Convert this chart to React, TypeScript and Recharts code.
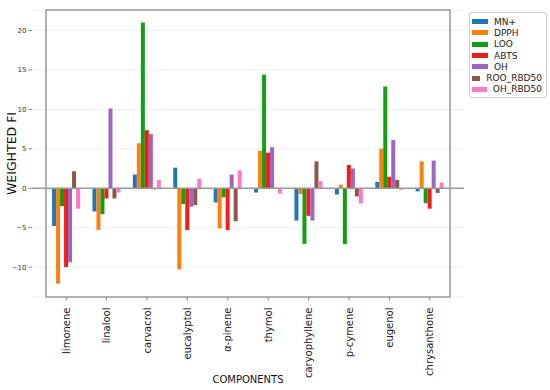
import React from "react";
import { BarChart, Bar, XAxis, YAxis, CartesianGrid, Legend, ReferenceLine, ReferenceArea } from "recharts";

const components = [
  "limonene",
  "linalool",
  "carvacrol",
  "eucalyptol",
  "α-pinene",
  "thymol",
  "caryophyllene",
  "p-cymene",
  "eugenol",
  "chrysanthone",
];

const mnPlus = [-4.8, -2.95, 1.73, 2.6, -1.8, -0.55, -4.1, -0.8, 0.8, -0.4];
const dpph = [-12.1, -5.3, 5.7, -10.3, -5.1, 4.75, -0.75, 0.45, 5.0, 3.4];
const loo = [-2.3, -3.3, 21.0, -2.0, -1.15, 14.4, -7.05, -7.1, 12.9, -1.9];
const abts = [-10.0, -1.3, 7.35, -5.3, -5.3, 4.5, -3.5, 2.95, 1.45, -2.6];
const oh = [-9.4, 10.1, 6.85, -2.35, 1.73, 5.2, -4.1, 2.5, 6.1, 3.5];
const rooRbd50 = [2.15, -1.3, -0.15, -2.15, -4.2, -0.1, 3.4, -1.05, 1.05, -0.6];
const ohRbd50 = [-2.6, -0.55, 1.05, 1.2, 2.24, -0.7, 0.9, -1.95, -0.2, 0.7];

const yTicks = [-10, -5, 0, 5, 10, 15, 20];
const yDomain = [-13.8, 22.6];

const series = [
  { key: "MN+", values: mnPlus, color: "#1f77b4" },
  { key: "DPPH", values: dpph, color: "#ff7f0e" },
  { key: "LOO", values: loo, color: "#12a012" },
  { key: "ABTS", values: abts, color: "#f21c1c" },
  { key: "OH", values: oh, color: "#9d65c4" },
  { key: "ROO_RBD50", values: rooRbd50, color: "#8c564b" },
  { key: "OH_RBD50", values: ohRbd50, color: "#ff77c8" },
];

const data = components.map((name, i) => {
  const row: Record<string, string | number> = { name };
  series.forEach((s) => {
    row[s.key] = s.values[i];
  });
  return row;
});

const font = "'DejaVu Sans', sans-serif";

const fmt = (v: number) => (v < 0 ? `\u2212${Math.abs(v)}` : `${v}`);

const XTick = ({ x, y, payload }: any) => (
  <g transform={`translate(${x},${y})`}>
    <text
      transform="rotate(-90)"
      x={-5}
      y={0}
      dy={3.5}
      textAnchor="end"
      fontSize={10}
      fontFamily={font}
      fill="#222"
    >
      {payload.value}
    </text>
  </g>
);

// keep the legend in series order (recharts sorts payload by name)
const LegendBox = () => (
  <div
    style={{
      border: "1px solid #ccc",
      borderRadius: 3,
      background: "#fff",
      padding: "3px 4px 2px 2px",
      fontFamily: font,
      fontSize: 9,
      color: "#222",
      width: 70,
    }}
  >
    {series.map((s) => (
      <div key={s.key} style={{ display: "flex", alignItems: "center", height: 11.3 }}>
        <span style={{ display: "inline-block", width: 16, height: 5, background: s.color, marginRight: 6 }} />
        <span>{s.key}</span>
      </div>
    ))}
  </div>
);

export default function App() {
  return (
    <div style={{ position: "absolute", left: 0, top: 0, width: 550, height: 390, background: "#fff" }}>
      <BarChart
        width={550}
        height={390}
        data={data}
        margin={{ top: 10, right: 86, bottom: 5, left: 8 }}
        barCategoryGap="15%"
        barGap={0}
      >
        <CartesianGrid vertical={false} stroke="#f0f0f0" />
        <XAxis
          dataKey="name"
          interval={0}
          height={88}
          padding={{ left: 14, right: 14 }}
          axisLine={false}
          tickLine={{ stroke: "#888" }}
          tickSize={3.5}
          tick={<XTick />}
          label={{
            value: "COMPONENTS",
            position: "insideBottom",
            offset: 2,
            fontSize: 10,
            fontFamily: font,
            fill: "#111",
          }}
        />
        <YAxis
          width={24}
          domain={yDomain}
          ticks={yTicks}
          allowDataOverflow
          axisLine={false}
          tickLine={{ stroke: "#888" }}
          tickSize={3.5}
          tickFormatter={fmt}
          tick={{ fontSize: 7, fontFamily: font, fill: "#333" }}
          label={{
            value: "WEIGHTED FI",
            angle: -90,
            position: "insideLeft",
            offset: 4,
            fontSize: 12.5,
            fontFamily: font,
            fill: "#111",
            style: { textAnchor: "middle" },
          }}
        />
        <ReferenceLine y={0} stroke="#999" strokeWidth={1.5} />
        {series.map((s) => (
          <Bar key={s.key} dataKey={s.key} fill={s.color} isAnimationActive={false} />
        ))}
        <ReferenceArea y1={yDomain[0]} y2={yDomain[1]} fill="none" stroke="#999" strokeWidth={1.5} fillOpacity={0} />
        <Legend
          layout="horizontal"
          align="center"
          verticalAlign="middle"
          content={<LegendBox />}
          wrapperStyle={{ left: 469, top: 12, width: 80 }}
        />
      </BarChart>
    </div>
  );
}
